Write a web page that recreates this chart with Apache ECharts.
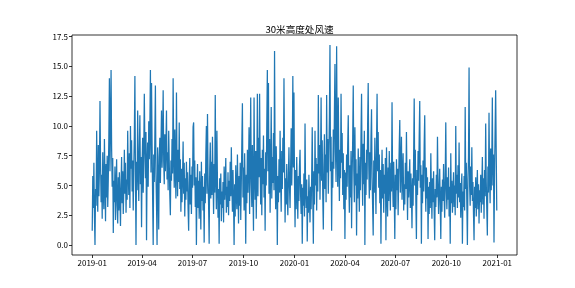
<!DOCTYPE html>
<html>
<head>
<meta charset="utf-8">
<script src="https://cdn.jsdelivr.net/npm/echarts@6/dist/echarts.min.js"></script>
<style>html,body{margin:0;padding:0;background:#fff}#c{width:575px;height:288px}</style>
</head>
<body>
<div id="c"></div>
<script>
// Daily wind speed at 30 m (m/s), one array per month
const m2019_01 = [1.2,5.8,3.1,6.9,2.4,0.0,4.7,3.3,9.6,5.2,2.8,8.4,4.1,6.3,12.1,7.0,3.6,5.9,2.2,7.8,4.4,3.0,8.9,5.5,2.0,6.8,4.0,7.5,3.2,5.6,9.1];
const m2019_02 = [14.0,6.2,9.8,14.7,8.1,4.9,7.3,1.0,5.4,3.6,6.6,2.1,4.8,7.2,3.3,1.8,5.7,2.9,6.1,4.0,1.6,5.0,7.4,3.5,6.2,2.6,4.7,8.0];
const m2019_03 = [4.3,6.9,2.7,5.5,3.8,9.6,6.0,4.2,7.7,3.1,10.0,6.4,8.8,4.5,7.1,2.9,6.5,9.2,14.2,5.8,0.0,7.0,4.6,11.3,6.3,3.7,8.0,10.9,5.1,7.4,1.5];
const m2019_04 = [6.8,9.0,4.4,7.9,12.7,8.3,5.6,9.5,0.4,6.7,8.6,4.9,10.4,7.2,9.9,14.7,6.1,13.6,8.5,4.0,0.0,7.6,5.3,9.1,13.4,6.0,3.4,0.0,8.2,5.7];
const m2019_05 = [1.3,7.4,9.0,5.2,8.1,11.3,6.5,8.7,13.0,7.0,5.1,9.3,6.2,8.4,11.3,5.5,7.8,4.6,9.6,6.9,4.2,2.5,7.1,5.4,8.9,6.0,14.0,7.5,4.8,9.7,6.3];
const m2019_06 = [3.9,12.8,6.6,4.1,8.0,5.3,10.3,4.7,7.2,2.8,6.4,3.6,5.8,8.7,4.3,6.9,2.4,5.6,3.8,7.0,4.5,6.1,3.0,1.2,5.2,7.3,3.4,5.9,2.6,6.6];
const m2019_07 = [4.8,9.9,10.3,5.0,7.1,3.2,5.7,0.0,4.6,6.8,3.1,5.4,2.2,6.2,4.0,1.3,7.0,3.7,5.8,2.9,4.9,0.2,6.0,3.5,7.6,10.0,4.3,11.0,5.9,3.3,0.1];
const m2019_08 = [6.4,8.6,3.9,7.0,4.2,9.1,5.5,2.6,6.8,4.4,12.6,5.9,3.0,9.6,5.2,2.3,4.7,0.1,5.6,3.4,6.0,2.0,4.5,3.1,5.3,1.9,6.6,3.8,5.0,7.3,2.7];
const m2019_09 = [4.9,3.2,6.1,2.5,5.4,3.7,7.0,4.1,8.2,5.0,2.8,6.3,3.6,0.0,5.1,2.4,6.7,4.3,3.0,7.6,4.6,1.8,5.8,3.3,6.9,2.1,5.2,8.7,11.9,4.0];
const m2019_10 = [6.5,2.9,7.7,4.8,0.1,5.9,3.5,8.0,4.4,6.6,9.9,2.6,7.1,12.4,5.3,3.2,8.4,4.9,1.2,12.4,6.0,3.8,7.9,2.2,5.6,12.7,4.1,9.0,5.7,12.7,6.8];
const m2019_11 = [3.4,7.3,2.5,8.0,5.1,9.2,4.0,6.4,1.2,7.8,5.0,10.1,14.7,6.2,13.6,4.3,8.9,2.7,6.6,11.6,3.9,7.4,5.2,9.4,4.6,16.3,6.9,3.0,8.3,5.5];
const m2019_12 = [0.0,5.8,3.6,7.2,4.4,9.6,5.5,2.8,7.9,4.7,9.0,6.1,14.0,7.3,1.9,5.6,3.4,6.8,4.0,2.5,5.9,8.2,4.8,3.1,6.4,9.8,5.0,7.7,14.2,6.5,12.8];
const m2020_01 = [5.2,1.5,6.3,3.0,7.4,4.5,2.2,5.8,3.7,6.6,8.0,4.2,2.6,5.1,0.1,4.8,3.3,6.0,2.4,10.2,4.6,3.1,5.5,0.3,4.1,2.7,5.9,3.5,1.9,4.9,3.0];
const m2020_02 = [5.7,9.9,4.0,0.1,6.2,3.4,9.6,5.0,7.3,2.9,6.8,4.5,12.6,6.0,8.4,3.8,7.0,12.4,5.4,8.8,4.1,1.3,6.5,9.3,4.7,7.6,3.6,12.6,6.1];
const m2020_03 = [8.9,4.3,7.5,10.8,16.8,6.2,9.1,1.2,7.0,4.8,9.7,6.4,11.0,15.2,7.8,5.3,16.7,8.6,4.9,12.4,7.2,3.7,8.0,5.6,12.7,6.9,9.4,4.2,7.7,3.0,6.3];
const m2020_04 = [0.5,6.1,3.8,7.6,4.9,8.3,10.9,5.2,2.7,6.7,4.0,7.9,1.4,5.8,8.8,13.4,6.3,3.6,9.9,5.0,7.2,0.8,6.0,3.9,8.1,5.3,2.8,7.4,4.6,9.2];
const m2020_05 = [12.7,6.4,3.3,8.5,5.1,9.6,0.0,6.9,4.2,8.0,5.5,10.2,13.6,6.7,3.9,7.8,4.6,8.9,11.4,5.7,3.2,0.8,7.1,4.4,9.0,5.9,2.6,8.3,12.7,6.2,9.5];
const m2020_06 = [4.8,7.6,3.5,6.3,0.1,5.4,8.0,3.9,6.8,2.7,5.9,4.3,7.3,0.4,8.2,4.9,2.4,6.5,3.7,7.9,5.2,2.9,6.9,4.5,12.0,5.6,3.2,7.0,4.1,0.5];
const m2020_07 = [5.9,3.0,7.2,4.6,6.4,2.5,5.7,8.3,10.5,4.4,6.6,9.1,3.8,5.8,7.7,2.9,5.1,3.4,6.9,4.7,9.5,5.3,2.1,6.2,4.0,5.5,7.2,3.1,6.0,4.3,1.4];
const m2020_08 = [5.6,3.3,7.4,12.3,5.0,8.0,3.6,0.5,6.3,4.2,7.9,5.4,9.0,12.1,4.8,6.7,0.1,5.9,3.5,7.1,4.5,8.4,10.9,5.2,2.8,6.5,3.9,5.7,0.5,4.9,2.6];
const m2020_09 = [5.3,3.1,7.7,4.4,2.2,5.6,3.6,6.2,2.9,0.4,4.7,3.2,5.9,4.0,9.1,5.1,2.6,4.6,6.4,3.4,0.5,4.9,2.8,5.5,3.7,6.8,4.1,2.3,5.8,10.3];
const m2020_10 = [4.6,3.0,5.7,3.8,6.5,2.4,4.9,0.1,7.7,3.5,5.4,2.7,4.4,6.1,3.2,5.0,2.5,10.0,4.3,5.9,3.1,6.7,4.0,8.6,3.6,5.2,2.3,4.8,6.0,0.1,4.5];
const m2020_11 = [3.2,5.8,2.9,11.6,4.7,6.9,3.4,0.0,5.5,7.4,14.9,5.0,3.3,6.6,4.2,8.2,3.7,5.3,2.6,0.4,4.9,3.1,5.7,2.4,4.4,6.3,3.0,5.1,1.8,4.6];
const m2020_12 = [3.6,5.9,2.7,4.8,7.4,3.4,5.6,2.2,6.3,4.1,10.2,5.3,3.0,0.8,6.6,4.4,11.1,5.7,3.5,8.1,4.6,6.9,12.4,5.0,7.6,0.2,6.0,9.7,13.0,7.8,2.9];

const startDate = [2019, 0, 1];
const xTickLabels = ['2019-01','2019-04','2019-07','2019-10','2020-01','2020-04','2020-07','2020-10','2021-01'];
const yTickValues = [0, 2.5, 5, 7.5, 10, 12.5, 15, 17.5];
const titleText = '30米高度处风速';

const speeds = [].concat(m2019_01,m2019_02,m2019_03,m2019_04,m2019_05,m2019_06,
  m2019_07,m2019_08,m2019_09,m2019_10,m2019_11,m2019_12,
  m2020_01,m2020_02,m2020_03,m2020_04,m2020_05,m2020_06,
  m2020_07,m2020_08,m2020_09,m2020_10,m2020_11,m2020_12);

// x positions measured in days since the first date
const DAY = 86400000;
const t0 = Date.UTC(startDate[0], startDate[1], startDate[2]);
const seriesData = speeds.map((v, i) => [i, v]);
const span = speeds.length - 1;
const xMin = -span * 0.05, xMax = span * 1.05;
const yMaxData = Math.max.apply(null, speeds), yMinData = Math.min.apply(null, speeds);
const yr = yMaxData - yMinData;
const yMin = yMinData - yr * 0.05, yMax = yMaxData + yr * 0.05;
const xTickValues = xTickLabels.map(s => { const p = s.split('-'); return Math.round((Date.UTC(+p[0], +p[1] - 1, 1) - t0) / DAY); });

const FONT = '"Noto Sans CJK SC", "DejaVu Sans", sans-serif';
const chart = echarts.init(document.getElementById('c'), null, {renderer: 'canvas'});
chart.setOption({
  animation: false,
  backgroundColor: '#ffffff',
  title: {
    text: titleText, left: 294.5, top: 20, textAlign: 'center',
    textStyle: {fontFamily: FONT, fontSize: 9.6, fontWeight: 'normal', color: '#000'}
  },
  grid: {left: 72, right: 58, top: 35, bottom: 33, show: true, borderColor: '#000', borderWidth: 0.8, backgroundColor: 'transparent'},
  xAxis: {
    type: 'value', min: xMin, max: xMax,
    axisLine: {show: false, onZero: false},
    splitLine: {show: false},
    axisTick: {show: true, inside: false, length: 3, lineStyle: {color: '#000', width: 0.8}, customValues: xTickValues},
    axisLabel: {
      customValues: xTickValues, margin: 4, color: '#000', fontSize: 8, fontFamily: FONT,
      formatter: function (v) { const i = xTickValues.indexOf(Math.round(v)); return i >= 0 ? xTickLabels[i] : ''; }
    }
  },
  yAxis: {
    type: 'value', min: yMin, max: yMax,
    axisLine: {show: false, onZero: false},
    splitLine: {show: false},
    axisTick: {show: true, inside: false, length: 3, lineStyle: {color: '#000', width: 0.8}, customValues: yTickValues},
    axisLabel: {
      customValues: yTickValues, margin: 4, color: '#000', fontSize: 8, fontFamily: FONT,
      formatter: function (v) { return Number(v).toFixed(1); }
    }
  },
  series: [{
    type: 'line', data: seriesData, showSymbol: false, symbol: 'none',
    lineStyle: {color: '#1f77b4', width: 1.25}, silent: true
  }]
});
</script>
</body>
</html>
